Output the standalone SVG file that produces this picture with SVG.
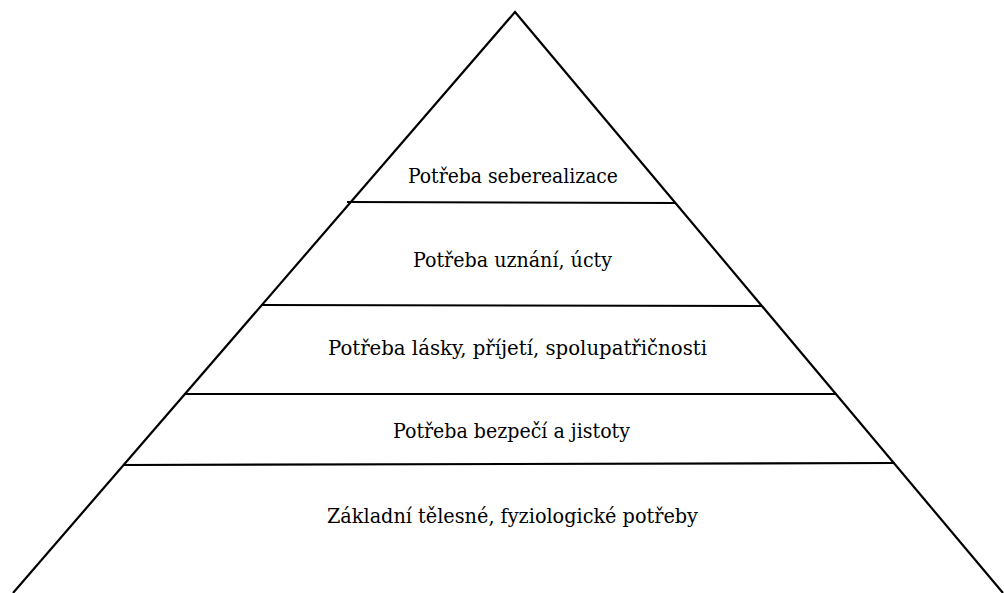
<svg xmlns="http://www.w3.org/2000/svg" width="1004" height="593" viewBox="0 0 1004 593">
<style>
.l{stroke:#000;stroke-width:2.2;fill:none}
.t{font-family:'DejaVu Serif',serif;font-stretch:condensed;font-size:20px;fill:#000;text-anchor:middle}
</style>
<rect width="1004" height="593" fill="#fff"/>
<g id="connectors">
<path class="l" d="M13,593 L515,12 L1003,593"/>
<line class="l" x1="347" y1="202" x2="675" y2="203"/>
<line class="l" x1="261" y1="305" x2="762" y2="306"/>
<line class="l" x1="184" y1="394" x2="836" y2="394"/>
<line class="l" x1="124" y1="465" x2="895" y2="463"/>
</g>
<g id="n1"><text class="t" x="513" y="183" textLength="210" lengthAdjust="spacingAndGlyphs">Potřeba seberealizace</text></g>
<g id="n2"><text class="t" x="512.5" y="267" textLength="199" lengthAdjust="spacingAndGlyphs">Potřeba uznání, úcty</text></g>
<g id="n3"><text class="t" x="517.5" y="355" textLength="379" lengthAdjust="spacingAndGlyphs">Potřeba lásky, příjetí, spolupatřičnosti</text></g>
<g id="n4"><text class="t" x="511.5" y="438" textLength="237" lengthAdjust="spacingAndGlyphs">Potřeba bezpečí a jistoty</text></g>
<g id="n5"><text class="t" x="512.5" y="523" textLength="371" lengthAdjust="spacingAndGlyphs">Základní tělesné, fyziologické potřeby</text></g>
</svg>
